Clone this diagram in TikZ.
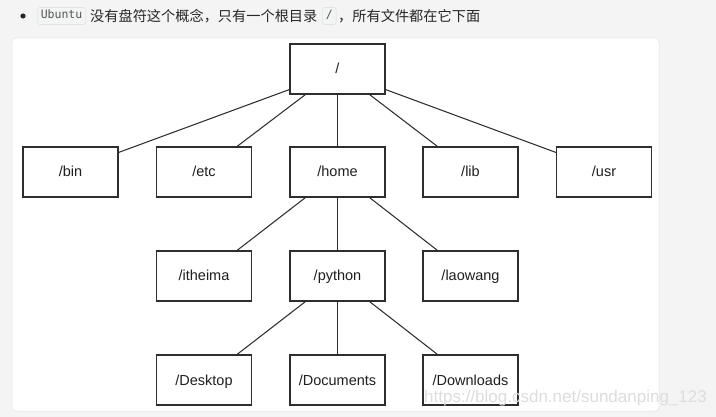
\documentclass[tikz,border=0pt]{standalone}
\usepackage{fontspec}
\setmainfont{Liberation Sans}
\newfontfamily\cjk{Noto Sans CJK SC}
\newfontfamily\codefont{DejaVu Sans Mono}
\usetikzlibrary{calc}
\definecolor{pagebg}{HTML}{F4F4F4}
\definecolor{panelbd}{HTML}{E6E6E6}
\definecolor{boxline}{HTML}{2E2E2E}
\definecolor{codebg}{HTML}{F3F4F4}
\definecolor{codebd}{HTML}{E1E4E6}
\definecolor{codetx}{HTML}{555555}
\definecolor{wmark}{HTML}{DDDDDD}
\tikzset{
  dirbox/.style={draw=boxline, line width=1.05pt, fill=white, minimum width=95pt, minimum height=50pt, inner sep=0pt, text height=10.5pt, text depth=0.5pt, font=\fontsize{14.5}{16}\selectfont, text=black!88},
  link/.style={draw=boxline, line width=1.05pt},
  codebox/.style={draw=codebd, fill=codebg, rounded corners=2.5pt, line width=0.6pt, inner xsep=3.5pt, inner ysep=0pt, minimum height=17pt, text height=8pt, text depth=2pt, font=\codefont\fontsize{11.5}{13}\selectfont, text=codetx},
  cjktext/.style={font=\cjk\fontsize{14.2}{16}\selectfont, text=black!85, inner sep=0pt},
}
\begin{document}
\begin{tikzpicture}[x=1pt,y=-1pt]
\useasboundingbox (0,0) rectangle (716,417);
\fill[pagebg] (0,0) rectangle (716,417);
% panel
\fill[black!5, rounded corners=4pt] (13,39.5) rectangle (660,412.5);
\draw[panelbd, fill=white, rounded corners=4pt, line width=0.5pt] (12,38) rectangle (659,411);

% header line
\fill[black!85] (23,16) circle (2.6pt);
\node[codebox, anchor=west] (ubuntu) at (37,16) {Ubuntu};
\node[cjktext, anchor=west] (t1) at (90,16) {没有盘符这个概念，只有一个根目录};
\node[codebox, anchor=west] (slash) at (322,16) {/};
\node[cjktext, anchor=west] (t2) at (338,16) {，所有文件都在它下面};

% tree nodes
\node[dirbox] (root) at (337.5,69) {/};
\node[dirbox] (bin) at (70.5,172) {/bin};
\node[dirbox] (etc) at (204,172) {/etc};
\node[dirbox] (home) at (337.5,172) {/home};
\node[dirbox] (lib) at (470.5,172) {/lib};
\node[dirbox] (usr) at (604,172) {/usr};
\node[dirbox] (itheima) at (204,276) {/itheima};
\node[dirbox] (python) at (337.5,276) {/python};
\node[dirbox] (laowang) at (470.5,276) {/laowang};
\node[dirbox] (desktop) at (204,380) {/Desktop};
\node[dirbox] (documents) at (337.5,380) {/Documents};
\node[dirbox] (downloads) at (470.5,380) {/Downloads};

% connectors
\draw[link] ($(root.south west)+(0,-5)$) -- ($(bin.north east)+(0,6)$);
\draw[link] ($(root.south)+(-32,0)$) -- ($(etc.north)+(33,0)$);
\draw[link] (root.south) -- (home.north);
\draw[link] ($(root.south)+(32,0)$) -- ($(lib.north)+(-33,0)$);
\draw[link] ($(root.south east)+(0,-5)$) -- ($(usr.north west)+(0,6)$);

\draw[link] ($(home.south)+(-32,0)$) -- ($(itheima.north)+(33,0)$);
\draw[link] (home.south) -- (python.north);
\draw[link] ($(home.south)+(32,0)$) -- ($(laowang.north)+(-33,0)$);

\draw[link] ($(python.south)+(-32,0)$) -- ($(desktop.north)+(33,0)$);
\draw[link] (python.south) -- (documents.north);
\draw[link] ($(python.south)+(32,0)$) -- ($(downloads.north)+(-33,0)$);

% watermark
\node[anchor=east, text=wmark, inner sep=0pt, font=\fontsize{17}{19}\selectfont] (wm) at (707,398) {https://blog.csdn.net/sundanping\_123};
\end{tikzpicture}
\end{document}
